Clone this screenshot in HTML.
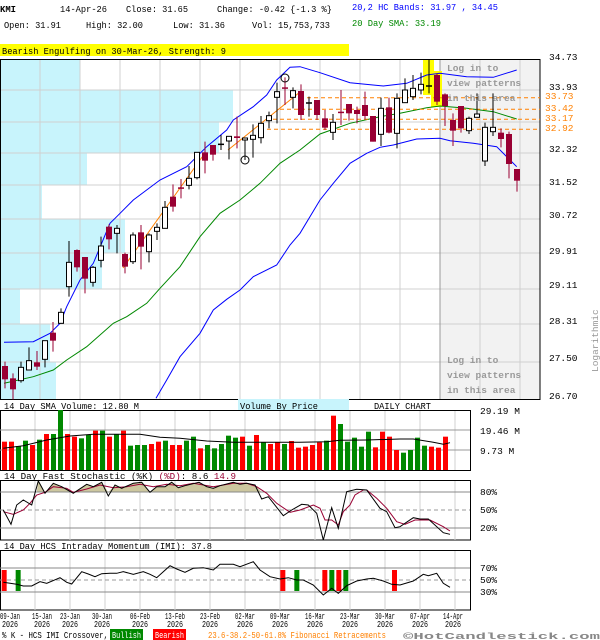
<!DOCTYPE html>
<html><head><meta charset="utf-8"><style>
html,body{margin:0;padding:0;background:#fff;}
body{width:600px;height:640px;overflow:hidden;position:relative;}
svg{position:absolute;left:0;top:0;}
text{font-family:"Liberation Mono",monospace;font-size:9.5px;}
</style></head><body>
<svg id="s" width="600" height="640" viewBox="0 0 600 640" xmlns="http://www.w3.org/2000/svg">
<g id="bg"></g>
<text x="0" y="12" font-weight="bold" font-size="10" textLength="16" lengthAdjust="spacingAndGlyphs">KMI</text>
<text x="60" y="12" textLength="47" lengthAdjust="spacingAndGlyphs">14-Apr-26</text>
<text x="126" y="12" textLength="62" lengthAdjust="spacingAndGlyphs">Close: 31.65</text>
<text x="217" y="12" textLength="115" lengthAdjust="spacingAndGlyphs">Change: -0.42 {-1.3 %}</text>
<text x="4" y="28" textLength="57" lengthAdjust="spacingAndGlyphs">Open: 31.91</text>
<text x="86" y="28" textLength="57" lengthAdjust="spacingAndGlyphs">High: 32.00</text>
<text x="173" y="28" textLength="52" lengthAdjust="spacingAndGlyphs">Low: 31.36</text>
<text x="252" y="28" textLength="78" lengthAdjust="spacingAndGlyphs">Vol: 15,753,733</text>
<text x="352" y="10" fill="#0000ff" textLength="146" lengthAdjust="spacingAndGlyphs">20,2 HC Bands: 31.97 , 34.45</text>
<text x="352" y="26" fill="#008800" textLength="89" lengthAdjust="spacingAndGlyphs">20 Day SMA: 33.19</text>
<rect x="0" y="44" width="349" height="12" fill="#ffff00"/>
<text x="2" y="54" textLength="224" lengthAdjust="spacingAndGlyphs">Bearish Engulfing on 30-Mar-26, Strength: 9</text>
<g id="main"></g>
<text x="549" y="60">34.73</text>
<text x="549" y="90">33.93</text>
<text x="549" y="152">32.32</text>
<text x="549" y="185">31.52</text>
<text x="549" y="218">30.72</text>
<text x="549" y="254">29.91</text>
<text x="549" y="288">29.11</text>
<text x="549" y="324">28.31</text>
<text x="549" y="361">27.50</text>
<text x="549" y="399">26.70</text>
<g fill="#ff8000"><text x="545" y="99" font-size="8.5">33.73</text><text x="545" y="111" font-size="8.5">33.42</text><text x="545" y="121" font-size="8.5">33.17</text><text x="545" y="131" font-size="8.5">32.92</text></g>
<text x="0" y="0" fill="#999" transform="translate(598,372) rotate(-90)">Logarithmic</text>
<g fill="#999" font-weight="bold">
<text x="447" y="71" font-size="10">Log in to</text><text x="447" y="86" font-size="10">view patterns</text><text x="447" y="101" font-size="10">in this area</text>
<text x="447" y="363" font-size="10">Log in to</text><text x="447" y="378" font-size="10">view patterns</text><text x="447" y="393" font-size="10">in this area</text>
</g>
<rect x="238" y="399" width="111" height="11" fill="#c8f4fc"/>
<text x="4" y="409" textLength="135" lengthAdjust="spacingAndGlyphs">14 Day SMA Volume: 12.80 M</text>
<text x="240" y="409" textLength="78" lengthAdjust="spacingAndGlyphs">Volume By Price</text>
<text x="374" y="409" textLength="57" lengthAdjust="spacingAndGlyphs">DAILY CHART</text>
<g id="vol"></g>
<text x="480" y="414">29.19 M</text>
<text x="480" y="434">19.46 M</text>
<text x="480" y="454">9.73 M</text>
<text x="4" y="479" textLength="232" lengthAdjust="spacingAndGlyphs">14 Day Fast Stochastic (%K) <tspan fill="#990033">(%D)</tspan>: 8.6   <tspan fill="#990033">14.9</tspan></text>
<g id="sto"></g>
<text x="480" y="495">80%</text><text x="480" y="513">50%</text><text x="480" y="531">20%</text>
<text x="4" y="549" textLength="208" lengthAdjust="spacingAndGlyphs">14 Day HCS Intraday Momentum (IMI): 37.8</text>
<g id="imi"></g>
<text x="480" y="571">70%</text><text x="480" y="583">50%</text><text x="480" y="595">30%</text>
<text x="2" y="638" font-size="8.5" textLength="106" lengthAdjust="spacingAndGlyphs">% K - HCS IMI Crossover,</text>
<rect x="110" y="629" width="33" height="11" fill="#008800"/><text x="112" y="638" fill="#fff" font-size="8.5" textLength="29" lengthAdjust="spacingAndGlyphs">Bullish</text>
<rect x="153" y="629" width="33" height="11" fill="#ff0000"/><text x="155" y="638" fill="#fff" font-size="8.5" textLength="29" lengthAdjust="spacingAndGlyphs">Bearish</text>
<text x="208" y="638" fill="#ff8000" font-size="8.5" textLength="178" lengthAdjust="spacingAndGlyphs">23.6-38.2-50-61.8% Fibonacci Retracements</text>
<text x="403" y="639" fill="#888" font-size="12" font-weight="bold" textLength="197" lengthAdjust="spacingAndGlyphs">©HotCandlestick.com</text>
<g text-anchor="middle">
<text x="10" y="619" font-size="8" textLength="20" lengthAdjust="spacingAndGlyphs">09-Jan</text><text x="10" y="627" font-size="8" textLength="16" lengthAdjust="spacingAndGlyphs">2026</text>
<text x="42" y="619" font-size="8" textLength="20" lengthAdjust="spacingAndGlyphs">15-Jan</text><text x="42" y="627" font-size="8" textLength="16" lengthAdjust="spacingAndGlyphs">2026</text>
<text x="70" y="619" font-size="8" textLength="20" lengthAdjust="spacingAndGlyphs">23-Jan</text><text x="70" y="627" font-size="8" textLength="16" lengthAdjust="spacingAndGlyphs">2026</text>
<text x="102" y="619" font-size="8" textLength="20" lengthAdjust="spacingAndGlyphs">30-Jan</text><text x="102" y="627" font-size="8" textLength="16" lengthAdjust="spacingAndGlyphs">2026</text>
<text x="140" y="619" font-size="8" textLength="20" lengthAdjust="spacingAndGlyphs">06-Feb</text><text x="140" y="627" font-size="8" textLength="16" lengthAdjust="spacingAndGlyphs">2026</text>
<text x="175" y="619" font-size="8" textLength="20" lengthAdjust="spacingAndGlyphs">13-Feb</text><text x="175" y="627" font-size="8" textLength="16" lengthAdjust="spacingAndGlyphs">2026</text>
<text x="210" y="619" font-size="8" textLength="20" lengthAdjust="spacingAndGlyphs">23-Feb</text><text x="210" y="627" font-size="8" textLength="16" lengthAdjust="spacingAndGlyphs">2026</text>
<text x="245" y="619" font-size="8" textLength="20" lengthAdjust="spacingAndGlyphs">02-Mar</text><text x="245" y="627" font-size="8" textLength="16" lengthAdjust="spacingAndGlyphs">2026</text>
<text x="280" y="619" font-size="8" textLength="20" lengthAdjust="spacingAndGlyphs">09-Mar</text><text x="280" y="627" font-size="8" textLength="16" lengthAdjust="spacingAndGlyphs">2026</text>
<text x="315" y="619" font-size="8" textLength="20" lengthAdjust="spacingAndGlyphs">16-Mar</text><text x="315" y="627" font-size="8" textLength="16" lengthAdjust="spacingAndGlyphs">2026</text>
<text x="350" y="619" font-size="8" textLength="20" lengthAdjust="spacingAndGlyphs">23-Mar</text><text x="350" y="627" font-size="8" textLength="16" lengthAdjust="spacingAndGlyphs">2026</text>
<text x="385" y="619" font-size="8" textLength="20" lengthAdjust="spacingAndGlyphs">30-Mar</text><text x="385" y="627" font-size="8" textLength="16" lengthAdjust="spacingAndGlyphs">2026</text>
<text x="420" y="619" font-size="8" textLength="20" lengthAdjust="spacingAndGlyphs">07-Apr</text><text x="420" y="627" font-size="8" textLength="16" lengthAdjust="spacingAndGlyphs">2026</text>
<text x="453" y="619" font-size="8" textLength="20" lengthAdjust="spacingAndGlyphs">14-Apr</text><text x="453" y="627" font-size="8" textLength="16" lengthAdjust="spacingAndGlyphs">2026</text>
</g>
</svg>
<script>
var NS="http://www.w3.org/2000/svg";
function el(p,t,a){var e=document.createElementNS(NS,t);for(var k in a)e.setAttribute(k,a[k]);document.getElementById(p).appendChild(e);return e;}
function pts(arr,ox,oy){return arr.map(function(p){return (ox+p[0]/3).toFixed(1)+","+(oy+p[1]/3).toFixed(1)}).join(" ");}
el("main","rect",{x:0,y:59,width:540,height:341,fill:"#fff"});
var vbp=[[60,90,79],[90,122,232],[122,153,218],[153,185,86],[185,219,41],[219,253,124],[253,289,101],[289,324,19],[324,362,49],[362,399,55]];
vbp.forEach(function(r){el("main","rect",{x:1,y:r[0],width:r[2],height:r[1]-r[0],fill:"#c8f4fc"});});
el("main","rect",{x:440,y:59,width:100,height:341,fill:"#f2f2f2"});
[90,122,153,185,219,253,289,324,362].forEach(function(y){el("main","line",{x1:0,x2:540,y1:y,y2:y,stroke:"#d0d0d0","stroke-width":1});});
for(var x=40;x<540;x+=40)el("main","line",{x1:x,x2:x,y1:59,y2:400,stroke:x==440?"#999":"#d0d0d0","stroke-width":1});
el("main","rect",{x:0.5,y:59.5,width:539.5,height:340,fill:"none",stroke:"#000"});
el("main","rect",{x:423,y:60,width:11,height:35,fill:"#ffff00"});
el("main","rect",{x:431,y:71,width:11,height:36,fill:"#ffff00"});
var ub=[[12,847],[100,845],[150,820],[180,790],[200,740],[240,660],[280,610],[330,490],[350,470],[400,420],[480,360],[560,320],[620,260],[680,210],[700,180],[760,140],[800,105],[830,60],[870,22],[900,20],[960,38],[1050,68],[1150,78],[1220,70],[1280,45],[1320,40],[1400,50],[1480,52],[1550,30]];
var mb=[[12,970],[100,950],[160,930],[200,900],[260,860],[340,790],[380,770],[440,730],[480,685],[540,620],[600,530],[660,460],[720,420],[780,370],[840,310],[900,270],[960,222],[1050,190],[1140,170],[1200,160],[1280,143],[1320,138],[1400,145],[1480,155],[1550,177]];
var lb=[[468,1015],[500,960],[540,890],[600,820],[640,750],[680,718],[720,690],[760,650],[830,615],[870,555],[900,520],[960,420],[1000,370],[1050,310],[1100,280],[1140,262],[1180,255],[1250,237],[1320,235],[1350,242],[1420,250],[1490,260],[1550,320]];
el("main","polyline",{points:pts(ub,0,60),fill:"none",stroke:"#0000ff","stroke-width":1});
el("main","polyline",{points:pts(mb,0,60),fill:"none",stroke:"#008800","stroke-width":1});
el("main","polyline",{points:pts(lb,0,60),fill:"none",stroke:"#0000ff","stroke-width":1});
el("main","line",{x1:123,y1:268,x2:205,y2:153,stroke:"#ff8000"});
el("main","line",{x1:228,y1:150,x2:300,y2:92,stroke:"#ff8000"});
[[97.7,300],[109.3,280],[119.3,273],[129.3,267]].forEach(function(d){el("main","line",{x1:d[1],x2:540,y1:d[0],y2:d[0],stroke:"#ff8000","stroke-dasharray":"4,3"});});
var C=[[918,958,905,985,1],[955,988,940,1018,1],[922,962,905,968,0],[902,930,862,930,0],[907,920,873,930,1],[842,898,842,922,0],[818,842,786,875,1],[757,790,745,790,0],[607,680,543,710,0],[570,622,568,635,1],[591,656,591,700,1],[622,667,618,680,0],[558,601,530,622,0],[500,538,493,568,1],[505,520,495,580,0],[582,620,578,640,1],[525,605,517,612,0],[517,560,495,628,1],[525,575,520,607,0],[502,514,490,540,0],[442,505,423,505,0],[410,440,373,455,1],[382,386,357,415,1],[355,376,318,388,0],[277,353,277,358,0],[277,302,245,340,1],[255,284,255,302,1],[253,256,225,270,2],[229,243,229,298,0],[229,234,170,265,1],[234,240,234,300,0],[226,238,193,293,0],[190,233,168,250,0],[167,182,155,205,0],[95,112,68,190,0],[82,86,52,135,1],[92,112,82,145,0],[93,165,73,180,1],
[129,132,110,170,2],[120,165,120,180,1],[175,203,150,210,1],[187,217,162,240,0],[155,158,90,195,1],[132,160,132,182,1],[150,162,140,190,1],[135,168,95,178,1],[168,245,168,245,1],[145,223,113,258,0],[142,218,113,220,1],[115,220,100,265,0],[90,128,55,128,0],[85,110,45,120,0],[73,90,38,103,0],[78,81,0,100,2],[45,125,40,135,1],[103,138,100,198,1],[180,212,160,258,1],[138,205,138,218,1],[175,212,170,222,0],[162,172,100,172,0],[202,303,188,318,0],[202,215,100,228,0],[218,237,205,262,1],[222,312,215,355,1],[327,362,327,395,1]];
C.forEach(function(c,i){var x=5+8*i;var t=60+c[0]/3,b=60+c[1]/3,h=60+c[2]/3,l=60+c[3]/3;
 var col=c[4]==1?"#990033":"#000";
 el("main","line",{x1:x,x2:x,y1:h,y2:l,stroke:col,"stroke-width":1});
 if(c[4]==2){el("main","line",{x1:x-3,x2:x+3,y1:t,y2:t,stroke:"#000","stroke-width":1.5});}
 else if(c[4]==1){el("main","rect",{x:x-3,y:t,width:6,height:Math.max(b-t,1.5),fill:col});}
 else el("main","rect",{x:x-2.5,y:t,width:5,height:Math.max(b-t,1.5),fill:"#fff",stroke:"#000","stroke-width":1});
});
el("main","circle",{cx:285,cy:78,r:4,fill:"none",stroke:"#000"});
el("main","circle",{cx:245,cy:160,r:4,fill:"none",stroke:"#000"});
el("vol","rect",{x:0.5,y:410.5,width:470,height:60,fill:"#fff",stroke:"#000"});
for(var x=35;x<470;x+=35)el("vol","line",{x1:x,x2:x,y1:411,y2:470,stroke:"#d0d0d0"});
[430,450].forEach(function(y){el("vol","line",{x1:0,x2:470,y1:y,y2:y,stroke:"#999"});});
var V="R140 R140 G153 G137 R150 G134 R117 G117 G45 R117 R125 G130 G120 R107 G107 R125 G117 R107 G152 G150 G150 R147 R140 G137 R150 R150 G137 G125 R160 G150 G160 G147 G122 G128 R125 G152 R120 G142 R147 R142 G147 R138 R158 R155 R150 R142 G137 R62 G87 G140 G128 G155 G110 R157 R110 R125 R165 G173 G165 G128 G152 R155 R158 R125".split(" ");
V.forEach(function(v,i){var t=395+parseInt(v.slice(1))/3;el("vol","rect",{x:2+7*i,y:t,width:5,height:470-t,fill:v[0]=="R"?"#ff0000":"#008800"});});
var vs=[[10,160],[70,152],[140,135],[210,123],[280,118],[360,118],[420,118],[480,127],[540,130],[620,138],[700,142],[800,142],[900,142],[980,140],[1020,136],[1100,135],[1200,132],[1240,132],[1300,142],[1330,148],[1350,143]];
el("vol","polyline",{points:pts(vs,0,395),fill:"none",stroke:"#000"});
el("sto","rect",{x:0.5,y:480.5,width:470,height:59.5,fill:"#fff",stroke:"#000"});
for(var x=35;x<470;x+=35)el("sto","line",{x1:x,x2:x,y1:481,y2:540,stroke:"#d0d0d0"});
var K=[[10,345],[33,388],[50,330],[70,315],[95,330],[115,258],[135,295],[160,265],[185,275],[220,295],[260,268],[280,275],[305,262],[325,303],[345,270],[365,280],[400,265],[425,262],[450,292],[470,275],[495,275],[515,262],[535,278],[555,272],[597,262],[620,275],[640,280],[660,272],[700,262],[720,268],[740,265],[765,270],[785,312],[805,305],[850,362],[875,345],[905,328],[925,330],[950,355],[970,435],[995,338],[1015,400],[1040,290],[1070,283],[1100,285],[1140,340],[1160,350],[1185,398],[1200,395],[1240,368],[1260,372],[1285,372],[1330,413],[1350,418]];
var D=[[10,350],[40,358],[70,345],[90,325],[110,300],[135,292],[160,275],[200,280],[220,292],[260,282],[300,270],[340,278],[380,275],[420,268],[460,275],[500,268],[540,272],[580,265],[640,275],[700,265],[740,265],[770,275],[800,295],[830,325],[870,352],[900,345],[940,330],[960,340],[975,375],[995,375],[1015,390],[1030,350],[1050,330],[1065,300],[1090,285],[1100,285],[1130,310],[1160,340],[1190,380],[1215,388],[1245,375],[1290,375],[1330,395],[1350,408]];
var area=[[110,292]].concat(K.filter(function(p){return p[0]>=115&&p[0]<=785}).map(function(p){return [p[0],Math.min(p[1],292)]})).concat([[790,292]]);
el("sto","polygon",{points:pts(area,0,395),fill:"#cdc79f"});
el("sto","line",{x1:0,x2:470,y1:492,y2:492,stroke:"#888"});
el("sto","line",{x1:0,x2:470,y1:510,y2:510,stroke:"#999","stroke-dasharray":"4,3"});
el("sto","line",{x1:0,x2:470,y1:528,y2:528,stroke:"#888"});
el("sto","polyline",{points:pts(D,0,395),fill:"none",stroke:"#990033"});
el("sto","polyline",{points:pts(K,0,395),fill:"none",stroke:"#000"});
el("imi","rect",{x:0.5,y:550.5,width:470,height:59.5,fill:"#fff",stroke:"#000"});
for(var x=35;x<470;x+=35)el("imi","line",{x1:x,x2:x,y1:551,y2:610,stroke:"#d0d0d0"});
el("imi","line",{x1:0,x2:470,y1:568,y2:568,stroke:"#888"});
el("imi","line",{x1:0,x2:470,y1:580,y2:580,stroke:"#999","stroke-dasharray":"4,3"});
el("imi","line",{x1:0,x2:470,y1:592,y2:592,stroke:"#888"});
[[5,"r"],[47,"g"],[841,"r"],[883,"g"],[967,"r"],[988,"g"],[1009,"r"],[1030,"g"],[1176,"r"]].forEach(function(b){el("imi","rect",{x:b[0]/3,y:570,width:5,height:21,fill:b[1]=="r"?"#ff0000":"#008800"});});
var I=[[10,562],[30,565],[50,568],[70,573],[95,573],[120,560],[140,565],[180,548],[200,562],[215,567],[245,530],[265,537],[285,545],[305,536],[330,535],[350,535],[370,530],[400,538],[430,530],[450,538],[470,548],[490,530],[510,512],[530,522],[555,532],[580,520],[610,518],[640,525],[660,508],[700,508],[720,515],[760,500],[780,525],[810,545],[840,552],[865,548],[890,555],[910,555],[940,570],[970,600],[995,580],[1015,595],[1040,572],[1070,558],[1100,552],[1120,550],[1150,558],[1175,568],[1200,570],[1240,558],[1270,538],[1285,542],[1310,535],[1330,565],[1350,577]];
el("imi","polyline",{points:pts(I,0,395),fill:"none",stroke:"#000"});
</script>
</body></html>
